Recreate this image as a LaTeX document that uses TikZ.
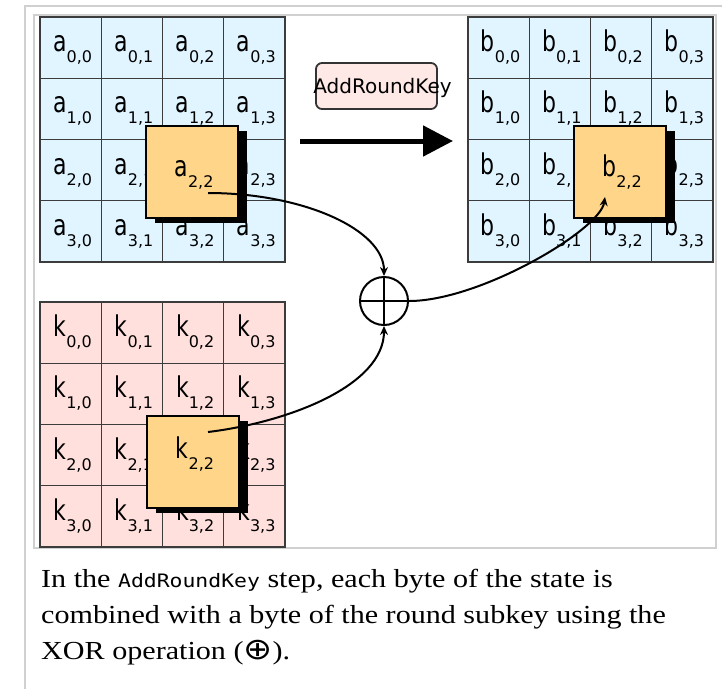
\documentclass[tikz,border=0pt]{standalone}
\usepackage{fontspec}
\setmainfont{Liberation Serif}
\newfontfamily\dejavu{DejaVu Sans}
\newfontfamily\dejamono{DejaVu Sans Mono}
\usetikzlibrary{arrows.meta,shadows}

\definecolor{stateblue}{RGB}{224,245,255}
\definecolor{keypink}{RGB}{255,224,220}
\definecolor{boxpink}{RGB}{255,233,230}
\definecolor{byteorange}{RGB}{255,213,138}
\definecolor{gridgray}{RGB}{60,60,60}
\definecolor{framegray}{RGB}{208,208,208}

\newcommand{\cellt}[3]{\kern4pt\scalebox{1}[1.3]{\fontsize{22}{22}\selectfont #1}\raisebox{-11pt}{\fontsize{16}{16}\selectfont #2,#3}}
\newcommand{\capline}[1]{\scalebox{1.158}[1]{\fontsize{26}{36}\selectfont #1}}

\tikzstyle{cell} = [rectangle, draw=gridgray, line width=1.3pt, minimum width=61.25pt, minimum height=61.25pt, inner sep=0pt, text height=14pt, text depth=6pt, font=\dejavu]
\tikzstyle{byte} = [cell, draw=black, line width=2pt, fill=byteorange, minimum width=92pt, minimum height=92pt, general shadow={fill=black, shadow xshift=9pt, shadow yshift=-5pt}]
\tikzstyle{opbox} = [rectangle, draw=black!80, line width=1.8pt, rounded corners=6pt, fill=boxpink, minimum width=121pt, minimum height=46pt, inner sep=0pt, text height=15pt, text depth=0pt, font={\dejavu\fontsize{20}{20}\selectfont}]
\tikzstyle{xorop} = [circle, draw, line width=2pt, minimum size=48pt, inner sep=0pt]
\tikzstyle{flow} = [draw, line width=2pt, -{Stealth[length=9pt,width=8pt]}]
\tikzstyle{bigarrow} = [draw, line width=5pt, -{Triangle[length=30pt,width=30pt]}]
\tikzstyle{captxt} = [anchor=base west, inner sep=0pt]

\begin{document}
\begin{tikzpicture}[x=1pt, y=-1pt]
    \useasboundingbox (0,0) rectangle (722,689);
    \fill[white] (0,0) rectangle (722,689);

    % frame
    \draw[framegray, line width=2pt] (25,689) -- (25,6) -- (722,6);
    \draw[framegray, line width=1.5pt] (34,15) rectangle (716,548);

    % Place nodes
    \foreach \r in {0,...,3}{
      \foreach \c in {0,...,3}{
        \node [cell, fill=stateblue] (a-\r-\c) at ({40+61.25*(\c+0.5)},{17+61.25*(\r+0.5)}) {\cellt{a}{\r}{\c}};
        \node [cell, fill=stateblue] (b-\r-\c) at ({468+61.25*(\c+0.5)},{17+61.25*(\r+0.5)}) {\cellt{b}{\r}{\c}};
        \node [cell, fill=keypink] (k-\r-\c) at ({40+61.25*(\c+0.5)},{302+61.25*(\r+0.5)}) {\cellt{k}{\r}{\c}};
      }
    }

    \node [byte] (a22) at (192,172) {\cellt{a}{2}{2}};
    \node [byte] (b22) at (620,172) {\cellt{b}{2}{2}};
    \node [byte, text height=6pt, text depth=14pt] (k22) at (193,462) {\cellt{k}{2}{2}};

    \node [opbox] (ark) at (376.5,86) {\makebox[0pt]{\hspace*{12pt}AddRoundKey}};
    \node [xorop] (xor) at (384,301) {};
    \draw[line width=2pt] (xor.north) -- (xor.south);
    \draw[line width=2pt] (xor.west) -- (xor.east);

    \coordinate (asrc) at (208,193);
    \coordinate (ksrc) at (208,432);
    \coordinate (bdst) at (605,197);
    \coordinate (arrs) at (300,141);
    \coordinate (arre) at (453,141);

    % Draw edges
    \path [bigarrow] (arrs) -- (arre);
    \path [flow] (asrc) .. controls (304,193) and (384,230) .. (xor.north);
    \path [flow] (ksrc) .. controls (290,422) and (384,385) .. (xor.south);
    \path [flow] (xor.east) .. controls (480,301) and (600,230) .. (bdst);

    % caption
    \node [captxt] (cap1) at (41,587) {\capline{In the {\dejamono\fontsize{18.5}{20}\selectfont AddRoundKey} step, each byte of the state is}};
    \node [captxt] (cap2) at (41,623) {\capline{combined with a byte of the round subkey using the}};
    \node [captxt] (cap3) at (41,659) {\capline{XOR operation ({\dejavu\fontsize{30}{30}\selectfont ⊕}).}};
\end{tikzpicture}
\end{document}
